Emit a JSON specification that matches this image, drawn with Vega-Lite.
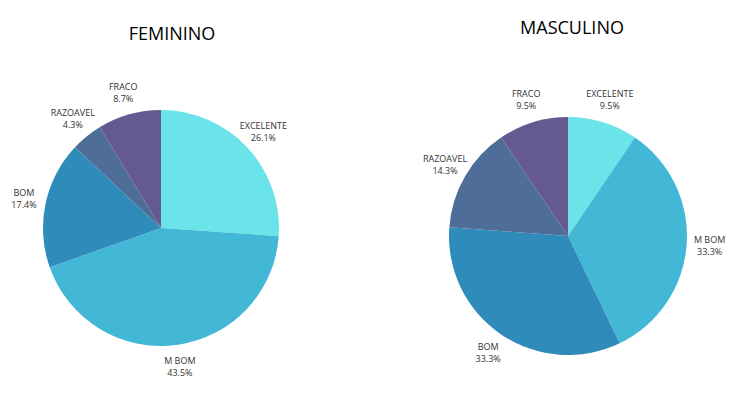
{
  "$schema": "https://vega.github.io/schema/vega-lite/v6.json",
  "background": "white",
  "padding": {"left": 0, "top": 20, "right": 0, "bottom": 0},
  "bounds": "flush",
  "spacing": 96,
  "datasets": {
    "respostas": [
      {"sexo": "FEMININO", "conceito": "EXCELENTE", "ordem": 1, "pct": 0.261},
      {"sexo": "FEMININO", "conceito": "M BOM", "ordem": 2, "pct": 0.435},
      {"sexo": "FEMININO", "conceito": "BOM", "ordem": 3, "pct": 0.174},
      {"sexo": "FEMININO", "conceito": "RAZOAVEL", "ordem": 4, "pct": 0.043},
      {"sexo": "FEMININO", "conceito": "FRACO", "ordem": 5, "pct": 0.087},
      {"sexo": "MASCULINO", "conceito": "EXCELENTE", "ordem": 1, "pct": 0.095},
      {"sexo": "MASCULINO", "conceito": "M BOM", "ordem": 2, "pct": 0.333},
      {"sexo": "MASCULINO", "conceito": "BOM", "ordem": 3, "pct": 0.333},
      {"sexo": "MASCULINO", "conceito": "RAZOAVEL", "ordem": 4, "pct": 0.143},
      {"sexo": "MASCULINO", "conceito": "FRACO", "ordem": 5, "pct": 0.095}
    ]
  },
  "hconcat": [
    {
      "width": 322,
      "height": 336,
      "title": {"text": "FEMININO", "fontSize": 18, "fontWeight": "normal", "font": "Open Sans", "offset": 16, "anchor": "middle", "dx": 11},
      "data": {"name": "respostas"},
      "transform": [{"filter": "datum.sexo == 'FEMININO'"}],
      "encoding": {
        "theta": {"field": "pct", "type": "quantitative", "stack": true},
        "order": {"field": "ordem", "type": "quantitative"},
        "color": {
          "field": "conceito",
          "type": "nominal",
          "legend": null,
          "scale": {
            "domain": ["EXCELENTE", "M BOM", "BOM", "RAZOAVEL", "FRACO"],
            "range": ["#6ae4e8", "#42b7d6", "#2e8bba", "#4e6d98", "#645a91"]
          }
        }
      },
      "layer": [
        {"mark": {"type": "arc", "outerRadius": 118}},
        {
          "mark": {"type": "text", "radius": 140, "dy": -6, "fontSize": 9, "font": "Open Sans"},
          "encoding": {"text": {"field": "conceito"}, "color": {"value": "#333333"}}
        },
        {
          "mark": {"type": "text", "radius": 140, "dy": 6, "fontSize": 9, "font": "Open Sans"},
          "encoding": {"text": {"field": "pct", "type": "quantitative", "format": ".1%"}, "color": {"value": "#333333"}}
        }
      ]
    },
    {
      "width": 300,
      "height": 352,
      "title": {"text": "MASCULINO", "fontSize": 18, "fontWeight": "normal", "font": "Open Sans", "offset": 22, "anchor": "middle", "dx": 4},
      "data": {"name": "respostas"},
      "transform": [{"filter": "datum.sexo == 'MASCULINO'"}],
      "encoding": {
        "theta": {"field": "pct", "type": "quantitative", "stack": true},
        "order": {"field": "ordem", "type": "quantitative"},
        "color": {
          "field": "conceito",
          "type": "nominal",
          "legend": null,
          "scale": {
            "domain": ["EXCELENTE", "M BOM", "BOM", "RAZOAVEL", "FRACO"],
            "range": ["#6ae4e8", "#42b7d6", "#2e8bba", "#4e6d98", "#645a91"]
          }
        }
      },
      "layer": [
        {"mark": {"type": "arc", "outerRadius": 119}},
        {
          "mark": {"type": "text", "radius": 142, "dy": -6, "fontSize": 9, "font": "Open Sans"},
          "encoding": {"text": {"field": "conceito"}, "color": {"value": "#333333"}}
        },
        {
          "mark": {"type": "text", "radius": 142, "dy": 6, "fontSize": 9, "font": "Open Sans"},
          "encoding": {"text": {"field": "pct", "type": "quantitative", "format": ".1%"}, "color": {"value": "#333333"}}
        }
      ]
    }
  ],
  "config": {"view": {"stroke": null}}
}
